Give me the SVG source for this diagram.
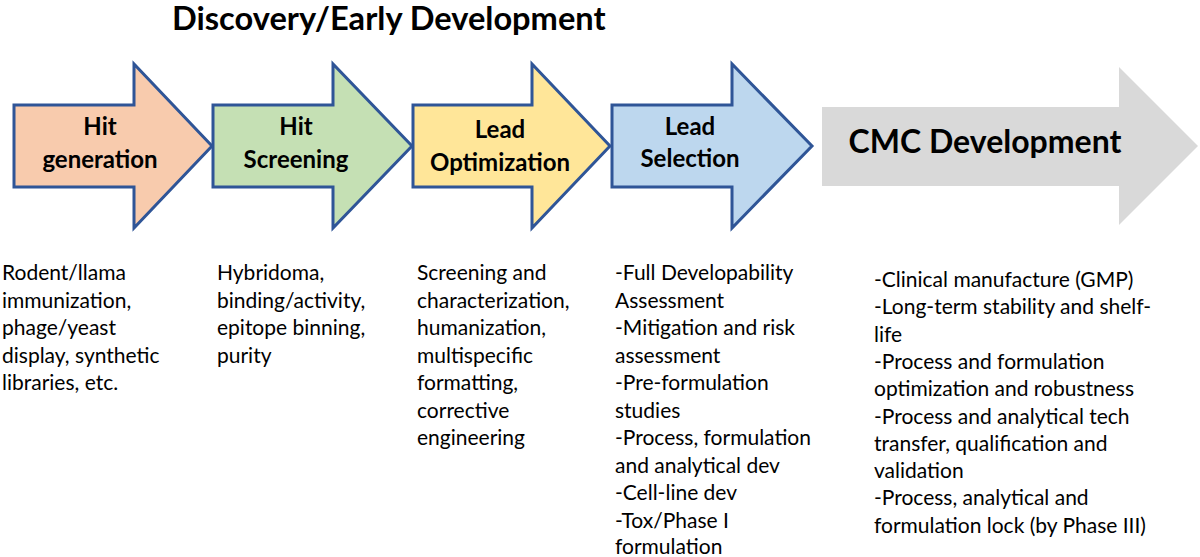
<svg xmlns="http://www.w3.org/2000/svg" width="1200" height="557" viewBox="0 0 1200 557">
<style>
.arr{stroke:#2F5597;stroke-width:3;stroke-linejoin:miter}
.lbl{font-family:Lato,"Open Sans","Liberation Sans",sans-serif;font-weight:bold;font-size:24px;fill:#000;text-anchor:middle}
.body{font-family:Lato,"Open Sans","Liberation Sans",sans-serif;font-size:21px;fill:#000}
.title{font-family:Lato,"Open Sans","Liberation Sans",sans-serif;font-weight:bold;font-size:32.6px;fill:#000}
</style>
<rect width="1200" height="557" fill="#fff"/>
<text class="title" x="172" y="30">Discovery/Early Development</text>
<g id="hit-generation">
<polygon class="arr" fill="#F8CBAD" points="14,105 134,105 134,64 212,146 134,228 134,187 14,187"/>
<text class="lbl" x="100" y="135">Hit</text>
<text class="lbl" x="100" y="168">generation</text>
</g>
<g id="hit-screening">
<polygon class="arr" fill="#C5E0B4" points="213,105 333,105 333,64 412,146 333,228 333,187 213,187"/>
<text class="lbl" x="296" y="135">Hit</text>
<text class="lbl" x="296" y="168">Screening</text>
</g>
<g id="lead-optimization">
<polygon class="arr" fill="#FFE699" points="413,105 532,105 532,64 610,146 532,228 532,187 413,187"/>
<text class="lbl" x="500" y="138">Lead</text>
<text class="lbl" x="500" y="171">Optimization</text>
</g>
<g id="lead-selection">
<polygon class="arr" fill="#BDD7EE" points="612,105 732,105 732,64 812,146 732,228 732,187 612,187"/>
<text class="lbl" x="690" y="135">Lead</text>
<text class="lbl" x="690" y="167">Selection</text>
</g>
<g id="cmc-development">
<polygon fill="#D9D9D9" points="822,107 1119,107 1119,67 1198,146 1119,225 1119,186 822,186"/>
<text class="lbl" x="985" y="153" style="font-size:32px">CMC Development</text>
</g>
<g id="connectors"></g>
<g id="desc-hit-generation" class="body">
<text x="2" y="280">Rodent/llama</text>
<text x="2" y="307.5">immunization,</text>
<text x="2" y="335">phage/yeast</text>
<text x="2" y="362.5">display, synthetic</text>
<text x="2" y="390">libraries, etc.</text>
</g>
<g id="desc-hit-screening" class="body">
<text x="217" y="280">Hybridoma,</text>
<text x="217" y="307.5">binding/activity,</text>
<text x="217" y="335">epitope binning,</text>
<text x="217" y="362.5">purity</text>
</g>
<g id="desc-lead-optimization" class="body">
<text x="417" y="280">Screening and</text>
<text x="417" y="307.5">characterization,</text>
<text x="417" y="335">humanization,</text>
<text x="417" y="362.5">multispecific</text>
<text x="417" y="390">formatting,</text>
<text x="417" y="417.5">corrective</text>
<text x="417" y="445">engineering</text>
</g>
<g id="desc-lead-selection" class="body">
<text x="615" y="280">-Full Developability</text>
<text x="615" y="307.5">Assessment</text>
<text x="615" y="335">-Mitigation and risk</text>
<text x="615" y="362.5">assessment</text>
<text x="615" y="390">-Pre-formulation</text>
<text x="615" y="417.5">studies</text>
<text x="615" y="445">-Process, formulation</text>
<text x="615" y="472.5">and analytical dev</text>
<text x="615" y="500">-Cell-line dev</text>
<text x="615" y="527.5">-Tox/Phase I</text>
<text x="615" y="554">formulation</text>
</g>
<g id="desc-cmc" class="body">
<text x="874" y="287">-Clinical manufacture (GMP)</text>
<text x="874" y="314.3">-Long-term stability and shelf-</text>
<text x="874" y="341.6">life</text>
<text x="874" y="368.9">-Process and formulation</text>
<text x="874" y="396.2">optimization and robustness</text>
<text x="874" y="423.5">-Process and analytical tech</text>
<text x="874" y="450.8">transfer, qualification and</text>
<text x="874" y="478.1">validation</text>
<text x="874" y="505.4">-Process, analytical and</text>
<text x="874" y="532.7">formulation lock (by Phase III)</text>
</g>
</svg>
